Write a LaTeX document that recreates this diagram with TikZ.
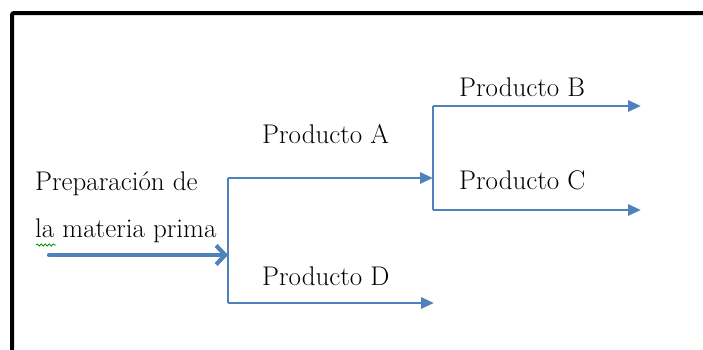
\documentclass[tikz,border=0pt]{standalone}
\usepackage{tikz}
\usetikzlibrary{arrows.meta,decorations.pathmorphing}
\definecolor{flowblue}{RGB}{79,129,189}
\tikzset{>=stealth}

\begin{document}
\begin{tikzpicture}[x=1pt,y=-1pt,
    flow/.style={line width=2.8pt,flowblue,-{Triangle[length=13pt,width=11pt]}},
    bar/.style={line width=2.8pt,flowblue},
    lbl/.style={font=\fontsize{27}{32}\selectfont,inner sep=0pt,anchor=base west}]
  \useasboundingbox (0,0) rectangle (703,349);
  \draw[line width=4pt,rounded corners=2pt] (12,355) -- (12,13) -- (708,13);
  % branch points
  \coordinate (in) at (49,255);
  \coordinate (j1) at (228,255);
  \coordinate (j1top) at (228,178);
  \coordinate (j1bot) at (228,303);
  \coordinate (j2top) at (433,106);
  \coordinate (j2bot) at (433,210);
  \coordinate (outA) at (433,178);
  \coordinate (outD) at (434,303);
  \coordinate (outB) at (641,106);
  \coordinate (outC) at (641,210);
  % labels
  \node[lbl] (prep1) at (35,190) {Preparación de};
  \node[lbl] (prep2) at (35,237) {la materia prima};
  \node[lbl] (prodA) at (262,143) {Producto A};
  \node[lbl] (prodB) at (459,96) {Producto B};
  \node[lbl] (prodC) at (459,189) {Producto C};
  \node[lbl] (prodD) at (262,285) {Producto D};
  \draw[green!60!black,line width=0.8pt,decorate,
    decoration={snake,segment length=4pt,amplitude=1pt}] (36,245) -- (56,245);
  % flow lines
  \draw[line width=4.2pt,flowblue,line cap=round,-{Straight Barb[length=9pt,width=19pt]}] (in) -- (j1);
  \draw[bar] (j1top) -- (j1bot);
  \draw[flow] (j1top) -- (outA);
  \draw[flow] (j1bot) -- (outD);
  \draw[bar] (j2top) -- (j2bot);
  \draw[flow] (j2top) -- (outB);
  \draw[flow] (j2bot) -- (outC);
\end{tikzpicture}
\end{document}
